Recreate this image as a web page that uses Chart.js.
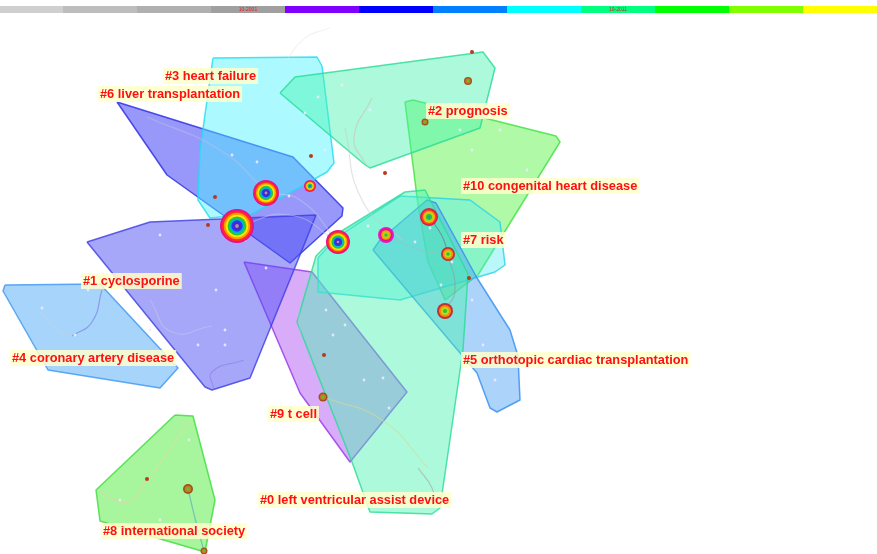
<!DOCTYPE html>
<html>
<head>
<meta charset="utf-8">
<script src="https://cdn.jsdelivr.net/npm/chart.js@4/dist/chart.umd.min.js"></script>
<style>
  html, body { margin: 0; padding: 0; background: #ffffff; overflow: hidden; }
  canvas { display: block; }
</style>
</head>
<body>
<canvas id="map" width="877" height="554"></canvas>
<script>
// ---- time-slice colour band (years along the top) ----
const sliceColors = ['#cfcfcf', '#bdbdbd', '#b0b0b0', '#a0a0a0', '#8000ff', '#0000ff',
                     '#0080ff', '#00ffff', '#00ff80', '#00ff00', '#80ff00', '#ffff00'];
const sliceEdges = [0, 63, 137, 211, 285, 359, 433, 507, 581, 655, 729, 803, 877];
const sliceLabels = ['', '', '', '10-2001', '', '', '', '', '10-2011', '', '', ''];

// ---- cluster hulls (layout coordinates) ----
const hull0 = [[316, 256], [340, 232], [405, 192], [425, 190], [468, 274], [463, 350], [440, 508], [432, 514], [370, 512], [352, 462], [297, 322]];
const hull1 = [[87, 242], [150, 222], [316, 215], [302, 250], [250, 378], [212, 390], [205, 387]];
const hull2 = [[280, 93], [295, 77], [483, 52], [495, 68], [480, 128], [370, 168], [364, 164]];
const hull3 = [[213, 58], [317, 57], [322, 66], [334, 163], [327, 172], [252, 214], [210, 218], [198, 200], [200, 150]];
const hull4 = [[5, 285], [100, 284], [178, 368], [160, 388], [48, 370], [3, 291]];
const hull5 = [[373, 250], [380, 240], [427, 200], [436, 203], [477, 278], [510, 330], [518, 356], [520, 400], [497, 412], [490, 408], [477, 373]];
const hull6 = [[117, 102], [293, 157], [343, 208], [342, 216], [290, 263], [167, 175]];
const hull7 = [[318, 258], [336, 238], [400, 196], [470, 200], [500, 222], [505, 265], [495, 272], [400, 300], [318, 292]];
const hull8 = [[175, 415], [193, 416], [215, 500], [205, 552], [150, 536], [100, 521], [96, 490]];
const hull9 = [[244, 262], [312, 272], [407, 392], [350, 462], [300, 393]];
const hull10 = [[405, 102], [413, 100], [556, 136], [560, 142], [478, 275], [445, 300], [428, 262], [418, 205]];

const hulls = [hull0, hull1, hull2, hull3, hull4, hull5, hull6, hull7, hull8, hull9, hull10];
const hullFill = ['rgba(70,245,175,0.45)', 'rgba(80,80,245,0.5)', 'rgba(70,245,175,0.45)',
                  'rgba(70,245,255,0.45)', 'rgba(80,170,245,0.5)', 'rgba(70,160,245,0.45)',
                  'rgba(50,50,245,0.5)', 'rgba(80,235,245,0.4)', 'rgba(80,235,60,0.5)',
                  'rgba(170,70,245,0.45)', 'rgba(80,245,60,0.45)'];
const hullEdge = ['rgba(40,220,150,0.8)', 'rgba(60,60,230,0.8)', 'rgba(40,220,150,0.8)',
                  'rgba(30,220,240,0.8)', 'rgba(60,150,240,0.8)', 'rgba(50,140,240,0.8)',
                  'rgba(40,40,230,0.8)', 'rgba(40,210,230,0.8)', 'rgba(60,220,60,0.8)',
                  'rgba(150,50,235,0.8)', 'rgba(60,225,60,0.8)'];

// ---- cluster labels ----
const clusterLabels = ['#0 left ventricular assist device', '#1 cyclosporine', '#2 prognosis',
                       '#3 heart failure', '#4 coronary artery disease',
                       '#5 orthotopic cardiac transplantation', '#6 liver transplantation',
                       '#7 risk', '#8 international society', '#9 t cell',
                       '#10 congenital heart disease'];
const labelX = [260, 83, 428, 165, 12, 463, 100, 463, 103, 270, 463];
const labelY = [500, 281, 111, 76, 358, 360, 94, 240, 531, 414, 186];

// ---- cited references (citation rings) ----
const nodeX = [237, 266, 310, 338, 386, 429, 448, 445, 468, 425, 323, 188, 204];
const nodeY = [226, 193, 186, 242, 235, 217, 254, 311, 81, 122, 397, 489, 551];
const nodeR = [17, 13, 6, 12, 8, 9, 7, 8, 4, 3.5, 4.5, 5, 3.5];
const ringSets = {
  full:  ['#e8108a', '#ff2a2a', '#ff9a00', '#ffe600', '#30c830', '#00b8c8', '#1e3cff', '#5a20c0', '#9a9aa8'],
  mid:   ['#e8108a', '#ff2a2a', '#ff9a00', '#ffe600', '#30c830', '#00b8c8', '#1e3cff'],
  pink:  ['#e818d0', '#e8108a', '#ff9a00', '#b0d020', '#30c030'],
  warm:  ['#d0204a', '#ff3a2a', '#ffb000', '#a8d820', '#30c030', '#10a0c0'],
  small: ['#c0303a', '#ff8a00', '#b8d820', '#30c030'],
  brown: ['#a05020', '#c87a20', '#60c030']
};
const nodeRings = ['full', 'full', 'mid', 'full', 'pink', 'warm', 'small', 'small', 'brown', 'brown', 'brown', 'brown', 'brown'];

// ---- minor references (small dots) ----
const minorX = [215, 208, 472, 469, 324, 147, 311, 385];
const minorY = [197, 225, 52, 278, 355, 479, 156, 173];

// ---- faint points of the network ----
const faintX = [232, 257, 289, 266, 225, 216, 198, 225, 160, 150, 42, 88, 75, 326, 333, 345, 364, 383, 389, 430, 452, 441, 472, 483, 495, 472, 445, 460, 500, 527, 415, 368, 325, 305, 318, 342, 370, 120, 160, 189, 245];
const faintY = [155, 162, 196, 268, 330, 290, 345, 345, 235, 330, 308, 290, 335, 310, 335, 325, 380, 378, 408, 228, 262, 285, 300, 345, 380, 150, 110, 130, 130, 170, 242, 226, 150, 113, 97, 85, 110, 500, 520, 440, 240];

// ---- co-citation links (start, bend, end) ----
const links = [
  [[147, 117], [220, 150], [265, 190]],
  [[160, 235], [195, 258], [232, 232]],
  [[150, 300], [172, 332], [212, 326]],
  [[244, 360], [212, 372], [214, 390]],
  [[102, 290], [92, 322], [72, 336]],
  [[40, 312], [60, 332], [76, 336]],
  [[190, 420], [168, 452], [148, 480]],
  [[188, 489], [196, 522], [204, 551]],
  [[100, 492], [128, 502], [147, 479]],
  [[323, 397], [382, 420], [428, 468]],
  [[418, 468], [432, 488], [436, 505]],
  [[345, 128], [362, 200], [402, 240]],
  [[366, 165], [354, 138], [372, 98]],
  [[386, 235], [420, 250], [448, 254]],
  [[429, 217], [442, 236], [448, 254]],
  [[238, 226], [290, 215], [338, 242]],
  [[266, 193], [300, 200], [338, 242]],
  [[285, 62], [305, 38], [330, 28]],
  [[305, 275], [300, 330], [323, 397]],
  [[448, 254], [455, 290], [445, 311]]
];
const linkColors = ['rgba(190,190,230,0.55)', 'rgba(170,170,240,0.55)', 'rgba(200,200,240,0.5)',
                    'rgba(140,120,230,0.55)', 'rgba(120,110,220,0.55)', 'rgba(200,210,240,0.5)',
                    'rgba(230,220,170,0.6)', 'rgba(80,160,200,0.6)', 'rgba(230,210,170,0.6)',
                    'rgba(210,220,150,0.6)', 'rgba(170,160,160,0.6)', 'rgba(200,200,210,0.5)',
                    'rgba(220,170,170,0.45)', 'rgba(160,190,190,0.5)', 'rgba(110,120,120,0.6)',
                    'rgba(200,200,240,0.5)', 'rgba(200,200,240,0.5)', 'rgba(225,225,225,0.4)',
                    'rgba(190,190,240,0.45)', 'rgba(150,150,150,0.5)'];

const toPts = arr => arr.map(p => ({x: p[0], y: p[1]}));

const datasets = [];

// citation rings (outer disc drawn by the library; inner rings by plugin)
datasets.push({
  label: 'references',
  data: nodeX.map((x, i) => ({x, y: nodeY[i]})),
  pointRadius: nodeR,
  pointHoverRadius: nodeR,
  pointBackgroundColor: nodeRings.map(k => ringSets[k][0]),
  pointBorderWidth: 0,
  showLine: false,
  order: 0
});

datasets.push({
  label: 'minor',
  data: minorX.map((x, i) => ({x, y: minorY[i]})),
  pointRadius: 2,
  pointBackgroundColor: '#b83a1e',
  pointBorderWidth: 0,
  showLine: false,
  order: 1
});

datasets.push({
  label: 'faint',
  data: faintX.map((x, i) => ({x, y: faintY[i]})),
  pointRadius: 1.4,
  pointBackgroundColor: 'rgba(235,235,255,0.9)',
  pointBorderWidth: 0,
  showLine: false,
  order: 2
});

links.forEach((l, i) => {
  datasets.push({
    label: 'link' + i,
    data: toPts(l),
    showLine: true,
    tension: 0.5,
    borderColor: linkColors[i],
    borderWidth: 1.2,
    pointRadius: 0,
    fill: false,
    order: 3
  });
});

hulls.forEach((h, i) => {
  const pts = toPts(h);
  pts.push({x: h[0][0], y: h[0][1]});
  datasets.push({
    label: clusterLabels[i],
    data: pts,
    showLine: true,
    tension: 0,
    fill: 'shape',
    backgroundColor: hullFill[i],
    borderColor: hullEdge[i],
    borderWidth: 1.5,
    borderJoinStyle: 'round',
    pointRadius: 0,
    order: 10 + i
  });
});

// year band along the top
const sliceBand = {
  id: 'sliceBand',
  afterDraw(chart) {
    const {ctx, scales: {x, y}} = chart;
    ctx.save();
    const top = y.getPixelForValue(6), bot = y.getPixelForValue(13);
    sliceColors.forEach((c, i) => {
      const a = x.getPixelForValue(sliceEdges[i]), b = x.getPixelForValue(sliceEdges[i + 1]);
      ctx.fillStyle = c;
      ctx.fillRect(a, top, b - a, bot - top);
      if (sliceLabels[i]) {
        ctx.fillStyle = '#e02020';
        ctx.font = '5px "Liberation Sans", Arial, sans-serif';
        ctx.textAlign = 'center';
        ctx.textBaseline = 'middle';
        ctx.fillText(sliceLabels[i], (a + b) / 2, (top + bot) / 2);
      }
    });
    ctx.restore();
  }
};

// concentric citation rings
const ringPainter = {
  id: 'ringPainter',
  afterDatasetsDraw(chart) {
    const {ctx} = chart;
    const meta = chart.getDatasetMeta(0);
    ctx.save();
    meta.data.forEach((pt, i) => {
      const rings = ringSets[nodeRings[i]];
      const r = nodeR[i];
      const step = r / rings.length;
      rings.forEach((c, k) => {
        if (k === 0) return;
        ctx.beginPath();
        ctx.arc(pt.x, pt.y, r - k * step, 0, Math.PI * 2);
        ctx.fillStyle = c;
        ctx.fill();
      });
    });
    ctx.restore();
  }
};

// cluster labels on a pale highlight
const labelPainter = {
  id: 'labelPainter',
  afterDraw(chart) {
    const {ctx, scales: {x, y}} = chart;
    ctx.save();
    ctx.font = 'bold 12.8px "Liberation Sans", Arial, sans-serif';
    ctx.textBaseline = 'middle';
    ctx.textAlign = 'left';
    clusterLabels.forEach((t, i) => {
      const px = x.getPixelForValue(labelX[i]);
      const py = y.getPixelForValue(labelY[i]);
      const w = ctx.measureText(t).width;
      ctx.fillStyle = 'rgba(255,255,205,0.85)';
      ctx.fillRect(px - 2, py - 8, w + 4, 16);
      ctx.fillStyle = '#ff1010';
      ctx.fillText(t, px, py + 0.5);
    });
    ctx.restore();
  }
};

new Chart(document.getElementById('map'), {
  type: 'scatter',
  data: {datasets},
  options: {
    responsive: false,
    animation: false,
    events: [],
    layout: {padding: 0, autoPadding: false},
    scales: {
      x: {type: 'linear', min: 0, max: 877, display: false},
      y: {type: 'linear', min: 0, max: 554, reverse: true, display: false}
    },
    plugins: {
      legend: {display: false},
      tooltip: {enabled: false}
    }
  },
  plugins: [sliceBand, ringPainter, labelPainter]
});
</script>
</body>
</html>
